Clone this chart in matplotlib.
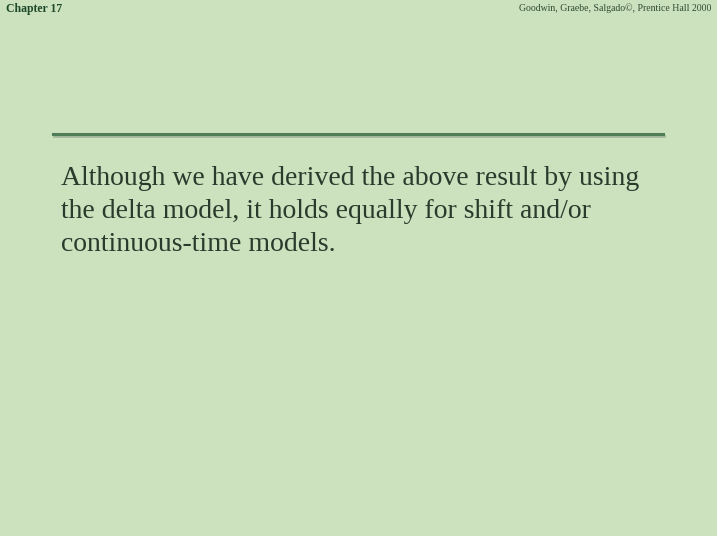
import matplotlib
matplotlib.use("Agg")
import matplotlib.pyplot as plt
from matplotlib.lines import Line2D

header_left = "Chapter 17"
header_right = "Goodwin, Graebe, Salgado\u00a9, Prentice Hall 2000"
body_lines = [
    "Although we have derived the above result by using",
    "the delta model, it holds equally for shift and/or",
    "continuous-time models.",
]

W, H = 717, 536
fig = plt.figure(figsize=(W / 100, H / 100), dpi=100)
fig.patch.set_facecolor("#cce1bd")

serif = ["Liberation Serif", "DejaVu Serif"]

fig.text(6 / W, 1 - 9 / H, header_left, family=serif, fontsize=8.5, weight="bold",
         color="#1f4a2a", ha="left", va="center")
fig.text(711 / W, 1 - 8 / H, header_right, family=serif, fontsize=7, color="#2f4a33",
         ha="right", va="center")

# rule with shadow
fig.add_artist(Line2D([54 / W, 664 / W], [1 - 136 / H, 1 - 136 / H], color="#a3b99e",
                      lw=2.0, transform=fig.transFigure))
fig.add_artist(Line2D([53 / W, 663 / W], [1 - 134 / H, 1 - 134 / H], color="#4f7d57",
                      lw=2.2, transform=fig.transFigure))

y0 = 185
for i, line in enumerate(body_lines):
    fig.text(61 / W, 1 - (y0 + 33 * i) / H, line, family=serif, fontsize=20,
             color="#2a3a2c", ha="left", va="baseline")

fig.savefig("out.png", dpi=100, facecolor=fig.get_facecolor())
